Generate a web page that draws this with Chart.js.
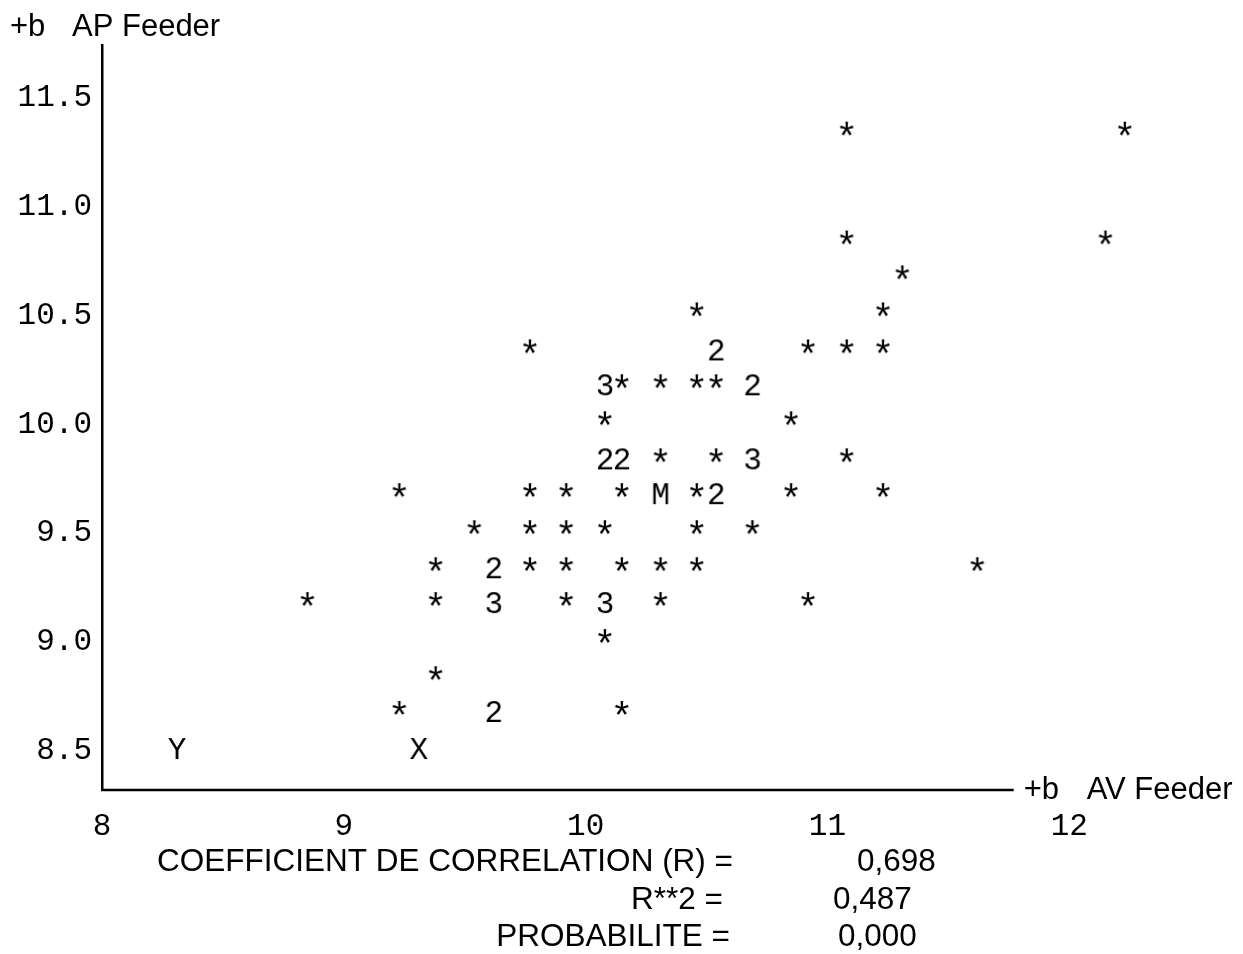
<!DOCTYPE html>
<html>
<head>
<meta charset="utf-8">
<title>AP Feeder vs AV Feeder</title>
<script src="https://cdn.jsdelivr.net/npm/chart.js@4.4.1/dist/chart.umd.min.js"></script>
<style>
  html, body { margin: 0; padding: 0; background: #fff; }
</style>
</head>
<body>
<canvas id="scatter" width="1243" height="954"></canvas>
<script>
// values, one group per print row (top to bottom)
const avFeeder = [
  11.08, 12.23,
  11.08, 12.15,
  11.31,
  10.46, 11.23,
  9.77, 10.54, 10.92, 11.08, 11.23,
  10.08, 10.15, 10.31, 10.46, 10.54, 10.69,
  10.08, 10.85,
  10.08, 10.15, 10.31, 10.54, 10.69, 11.08,
  9.23, 9.77, 9.92, 10.15, 10.31, 10.46, 10.54, 10.85, 11.23,
  9.54, 9.77, 9.92, 10.08, 10.46, 10.69,
  9.38, 9.62, 9.77, 9.92, 10.15, 10.31, 10.46, 11.62,
  8.85, 9.38, 9.62, 9.92, 10.08, 10.31, 10.92,
  10.08,
  9.38,
  9.23, 9.62, 10.15,
  8.31, 9.31
];
const apFeeder = [
  11.33, 11.33,
  10.83, 10.83,
  10.67,
  10.50, 10.50,
  10.33, 10.33, 10.33, 10.33, 10.33,
  10.17, 10.17, 10.17, 10.17, 10.17, 10.17,
  10.00, 10.00,
  9.83, 9.83, 9.83, 9.83, 9.83, 9.83,
  9.67, 9.67, 9.67, 9.67, 9.67, 9.67, 9.67, 9.67, 9.67,
  9.50, 9.50, 9.50, 9.50, 9.50, 9.50,
  9.33, 9.33, 9.33, 9.33, 9.33, 9.33, 9.33, 9.33,
  9.17, 9.17, 9.17, 9.17, 9.17, 9.17, 9.17,
  9.00,
  8.83,
  8.67, 8.67, 8.67,
  8.50, 8.50
];
// printed symbol: * = one case, digit = number of cases, M = means, X/Y = axis marks
const marks = [
  '*', '*',
  '*', '*',
  '*',
  '*', '*',
  '*', '2', '*', '*', '*',
  '3', '*', '*', '*', '*', '2',
  '*', '*',
  '2', '2', '*', '*', '3', '*',
  '*', '*', '*', '*', 'M', '*', '2', '*', '*',
  '*', '*', '*', '*', '*', '*',
  '*', '2', '*', '*', '*', '*', '*', '*',
  '*', '*', '3', '*', '3', '*', '*',
  '*',
  '*',
  '*', '2', '*',
  'Y', 'X'
];

const xTicks = [8, 9, 10, 11, 12];
const yTicks = [8.5, 9.0, 9.5, 10.0, 10.5, 11.0, 11.5];
const yTickLabels = ['8.5', '9.0', '9.5', '10.0', '10.5', '11.0', '11.5'];
const xTitle = 'AV Feeder';
const yTitle = 'AP Feeder';
const statNames = ['COEFFICIENT DE CORRELATION (R) =', 'R**2 =', 'PROBABILITE ='];
const statValues = ['0,698', '0,487', '0,000'];

const MONO = '"Liberation Mono", "Courier New", monospace';
const SANS = '"Liberation Sans", Arial, sans-serif';

// each printed character becomes a small canvas used as point style,
// ink centred on the point; the asterisk is printed a bit larger and raised
const glyphs = {};
function glyph(ch) {
  if (!glyphs[ch]) {
    const c = document.createElement('canvas');
    c.width = 30;
    c.height = 44;
    const g = c.getContext('2d');
    let size = 31, lift = 2.5;
    if (ch === '*') { size = 38; lift = 6; }
    g.font = size + 'px ' + MONO;
    g.fillStyle = '#000';
    g.textAlign = 'center';
    g.textBaseline = 'alphabetic';
    const m = g.measureText(ch);
    const inkMid = (m.actualBoundingBoxAscent - m.actualBoundingBoxDescent) / 2;
    g.fillText(ch, 15, 22 + inkMid - lift);
    glyphs[ch] = c;
  }
  return glyphs[ch];
}

const printout = {
  id: 'printout',
  afterDraw(chart) {
    const { ctx, scales: { x, y } } = chart;
    ctx.save();
    ctx.fillStyle = '#000';
    ctx.strokeStyle = '#000';

    // horizontal axis stops short, like the printed dashes
    const xEnd = x.getPixelForValue(11.77);
    ctx.lineWidth = 2.5;
    ctx.beginPath();
    ctx.moveTo(x.left - 1, y.bottom);
    ctx.lineTo(xEnd, y.bottom);
    ctx.stroke();

    ctx.font = '31px ' + SANS;
    ctx.textBaseline = 'middle';
    ctx.textAlign = 'left';
    ctx.fillText('+b', 10, 27);
    ctx.fillText(yTitle, 72, 27);
    ctx.fillText('+b', xEnd + 10, y.bottom);
    ctx.fillText(xTitle, xEnd + 73, y.bottom);

    ctx.font = '31.5px ' + SANS;
    const rowsY = [862, 900, 937];
    const nameRight = [733, 723, 730];
    const valueLeft = [857, 833, 838];
    statNames.forEach((s, i) => {
      ctx.textAlign = 'right';
      ctx.fillText(s, nameRight[i], rowsY[i]);
      ctx.textAlign = 'left';
      ctx.fillText(statValues[i], valueLeft[i], rowsY[i]);
    });
    ctx.restore();
  }
};

new Chart(document.getElementById('scatter'), {
  type: 'scatter',
  data: {
    datasets: [{
      data: avFeeder.map((v, i) => ({ x: v, y: apFeeder[i] })),
      pointStyle: ctx => glyph(marks[ctx.dataIndex]),
      pointRadius: 6,
      clip: false
    }]
  },
  options: {
    responsive: false,
    devicePixelRatio: 1,
    animation: false,
    events: [],
    layout: { padding: { top: 45, right: 77, bottom: 0, left: 0 } },
    plugins: { legend: { display: false }, tooltip: { enabled: false } },
    scales: {
      x: {
        type: 'linear',
        min: 8,
        max: 12.4,
        afterBuildTicks: s => { s.ticks = xTicks.map(v => ({ value: v })); },
        afterFit: s => { s.height = 164; },
        grid: { display: false, drawTicks: false },
        border: { display: false },
        ticks: {
          color: '#000',
          font: { family: MONO, size: 31 },
          padding: 18,
          maxRotation: 0,
          autoSkip: false,
          callback: v => String(v)
        }
      },
      y: {
        type: 'linear',
        min: 8.321,
        max: 11.7415,
        afterBuildTicks: s => { s.ticks = yTicks.map(v => ({ value: v })); },
        afterFit: s => { s.width = 102; },
        grid: { display: false, drawTicks: false },
        border: { display: true, color: '#000', width: 2.5 },
        ticks: {
          color: '#000',
          font: { family: MONO, size: 31 },
          padding: 10,
          autoSkip: false,
          callback: (v, i) => yTickLabels[i]
        }
      }
    }
  },
  plugins: [printout]
});
</script>
</body>
</html>
